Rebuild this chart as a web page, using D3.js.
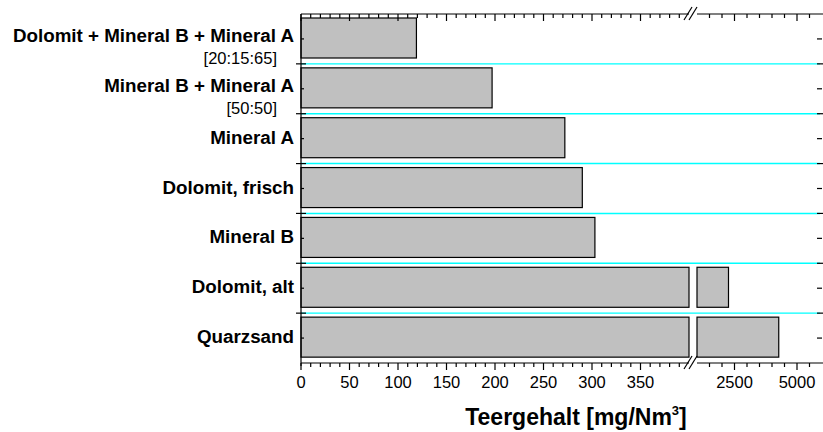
<!DOCTYPE html>
<html>
<head>
<meta charset="utf-8">
<script src="https://cdn.jsdelivr.net/npm/d3@7"></script>
<style>
  html, body { margin: 0; padding: 0; background: #fff; }
  svg { display: block; font-family: Arial, "Liberation Sans", sans-serif; }
</style>
</head>
<body>
<svg id="chart" width="823" height="432"></svg>
<script>
const categories = ["Dolomit + Mineral B + Mineral A", "Mineral B + Mineral A", "Mineral A", "Dolomit, frisch", "Mineral B", "Dolomit, alt", "Quarzsand"];
const subLabels = ["[20:15:65]", "[50:50]", "", "", "", "", ""];
const values = [119, 197, 272, 290, 303, 2260, 4270];
const ticksLow = [0, 50, 100, 150, 200, 250, 300, 350];
const ticksHigh = [2500, 5000];
const axisTitle = "Teergehalt [mg/Nm";
const axisTitleSup = "3";

(function () {
const svg = d3.select("#chart");
const pL = 301, pR = 822, pT = 14, pB = 363;
const breakLo = 400, breakHi = 1000;

const x1 = d3.scaleLinear().domain([0, breakLo]).range([pL, 689]);
const x2 = d3.scaleLinear().domain([breakHi, 6000]).range([697, pR]);
const y = d3.scaleBand().domain(categories).range([pT, pB]).padding(0);
const bw = y.bandwidth();

// cyan separators
const bounds = categories.slice(1).map(c => y(c));
svg.append("g").selectAll("line").data(bounds).join("line")
  .attr("x1", pL).attr("x2", pR - 2)
  .attr("y1", d => d).attr("y2", d => d)
  .attr("stroke", "#00ffff").attr("stroke-width", 1.4);

// bars
const barG = svg.append("g");
categories.forEach((c, i) => {
  const v = values[i];
  const by = y(c) + 4, bh = 40;
  barG.append("rect")
    .attr("x", x1(0)).attr("y", by)
    .attr("width", x1(Math.min(v, breakLo)) - x1(0)).attr("height", bh)
    .attr("fill", "#c0c0c0").attr("stroke", "#000").attr("stroke-width", 1.2);
  if (v > breakLo) {
    barG.append("rect")
      .attr("x", x2(breakHi)).attr("y", by)
      .attr("width", x2(v) - x2(breakHi)).attr("height", bh)
      .attr("fill", "#c0c0c0").attr("stroke", "#000").attr("stroke-width", 1.2);
  }
});

// axes lines
const ax = svg.append("g").attr("stroke", "#000").attr("stroke-width", 1.2);
[pT, pB].forEach(yy => {
  ax.append("line").attr("x1", pL).attr("x2", x1(breakLo)).attr("y1", yy).attr("y2", yy);
  ax.append("line").attr("x1", x2(breakHi)).attr("x2", pR + 2).attr("y1", yy).attr("y2", yy);
  [x1(breakLo) - 2, x2(breakHi) - 5].forEach(bx => {
    ax.append("line").attr("x1", bx - 3).attr("y1", yy + 6).attr("x2", bx + 5).attr("y2", yy - 7);
  });
});
ax.append("line").attr("x1", pL).attr("x2", pL).attr("y1", pT).attr("y2", pB + 3);

// x ticks
const minorLow = d3.range(0, breakLo, 10);
const minorHigh = d3.range(1500, 6000, 500);
function xticks(yy) {
  minorLow.forEach(v => {
    const major = v % 50 === 0;
    ax.append("line").attr("x1", x1(v)).attr("x2", x1(v)).attr("y1", yy).attr("y2", yy + (major ? 7 : 4));
  });
  minorHigh.forEach(v => {
    const major = ticksHigh.includes(v);
    ax.append("line").attr("x1", x2(v)).attr("x2", x2(v)).attr("y1", yy).attr("y2", yy + (major ? 7 : 4));
  });
}
xticks(pT);
xticks(pB);

// y ticks
categories.forEach((c) => {
  const cy = y(c) + bw / 2;
  ax.append("line").attr("x1", pL).attr("x2", pL + 3).attr("y1", cy).attr("y2", cy);
  ax.append("line").attr("x1", pR - 5).attr("x2", pR).attr("y1", cy).attr("y2", cy);
});
bounds.forEach(b => {
  ax.append("line").attr("x1", pL - 5).attr("x2", pL + 5).attr("y1", b).attr("y2", b);
  ax.append("line").attr("x1", pR - 5).attr("x2", pR + 2).attr("y1", b).attr("y2", b);
});

// tick labels
const tl = svg.append("g").attr("font-size", 16.5).attr("text-anchor", "middle").attr("fill", "#000");
ticksLow.forEach(v => tl.append("text").attr("x", x1(v)).attr("y", 388).text(v));
ticksHigh.forEach(v => tl.append("text").attr("x", x2(v)).attr("y", 388).text(v));

// category labels
const cl = svg.append("g").attr("text-anchor", "end").attr("fill", "#000");
categories.forEach((c, i) => {
  const cy = y(c) + bw / 2;
  cl.append("text").attr("x", 294).attr("y", cy + (subLabels[i] ? 3 : 5))
    .attr("font-size", 18.8).attr("font-weight", "bold").text(c);
  if (subLabels[i]) {
    cl.append("text").attr("x", 277).attr("y", cy + 25)
      .attr("font-size", 16.5).text(subLabels[i]);
  }
});

// axis title
const t = svg.append("text").attr("x", 576).attr("y", 425).attr("text-anchor", "middle")
  .attr("font-size", 23).attr("font-weight", "bold").attr("fill", "#000");
t.append("tspan").text(axisTitle);
t.append("tspan").attr("font-size", 13).attr("dy", -10).text(axisTitleSup);
t.append("tspan").attr("dy", 10).text("]");
})();
</script>
</body>
</html>
